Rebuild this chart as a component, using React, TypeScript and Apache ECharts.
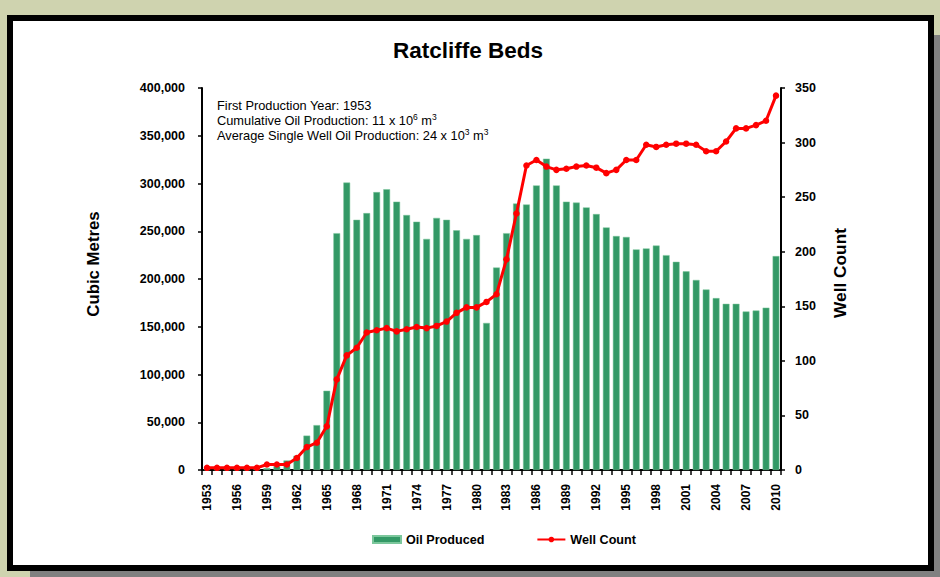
import React, { useEffect, useRef } from "react";
import * as echarts from "echarts";

const years = [
  "1953","1954","1955","1956","1957","1958","1959","1960","1961","1962",
  "1963","1964","1965","1966","1967","1968","1969","1970","1971","1972",
  "1973","1974","1975","1976","1977","1978","1979","1980","1981","1982",
  "1983","1984","1985","1986","1987","1988","1989","1990","1991","1992",
  "1993","1994","1995","1996","1997","1998","1999","2000","2001","2002",
  "2003","2004","2005","2006","2007","2008","2009","2010",
];

const oilProduced = [
  500, 500, 500, 500, 500, 1000, 2000, 4000, 10000, 15000,
  36000, 47000, 83000, 248000, 301000, 262000, 269000, 291000, 294000, 281000,
  267000, 260000, 242000, 264000, 262000, 251000, 242000, 246000, 154000, 212000,
  248000, 279000, 278000, 298000, 326000, 298000, 281000, 280000, 275000, 268000,
  254000, 245000, 244000, 231000, 232000, 235000, 225000, 218000, 208000, 199000,
  189000, 180000, 174000, 174000, 166000, 167000, 170000, 224000,
];

const wellCount = [
  2, 2, 2, 2, 2, 2, 5, 5, 5, 11,
  21, 25, 40, 83, 105, 112, 126, 128, 130, 127,
  129, 131, 130, 132, 136, 144, 149, 149, 154, 161,
  193, 235, 279, 284, 278, 275, 276, 278, 279, 277,
  272, 275, 284, 284, 298, 296, 298, 299, 299, 298,
  292, 292, 301, 313, 313, 316, 320, 343,
];

const titleText = "Ratcliffe Beds";
const leftAxisName = "Cubic Metres";
const rightAxisName = "Well Count";
const seriesNames = ["Oil Produced", "Well Count"];

const FONT = "'Liberation Sans', Arial, Helvetica, sans-serif";

export default function App() {
  const ref = useRef<HTMLDivElement>(null);

  useEffect(() => {
    if (!ref.current) return;
    const chart = echarts.init(ref.current, null, { renderer: "svg" });

    const noteRich = {
      n: { fontSize: 12.8, fontFamily: FONT, color: "#000", lineHeight: 15 },
      sup: { fontSize: 8.5, fontFamily: FONT, color: "#000", lineHeight: 15, verticalAlign: "top" as const },
    };

    chart.setOption({
      animation: false,
      backgroundColor: "#cfd3af",
      textStyle: { fontFamily: FONT },
      graphic: [
        {
          type: "rect",
          z: 0,
          shape: { x: 30, y: 35, width: 910, height: 542 },
          style: { fill: "#808080" },
          silent: true,
        },
        {
          type: "rect",
          z: 0,
          shape: { x: 10, y: 18, width: 921, height: 550 },
          style: { fill: "#ffffff", stroke: "#000000", lineWidth: 6 },
          silent: true,
        },
        {
          type: "text",
          z: 10,
          x: 468,
          y: 50,
          style: {
            text: titleText,
            fontSize: 22.5,
            fontWeight: "bold",
            fontFamily: FONT,
            fill: "#000",
            align: "center",
            verticalAlign: "middle",
          },
        },
        {
          type: "text",
          z: 10,
          x: 93,
          y: 264,
          rotation: Math.PI / 2,
          style: {
            text: leftAxisName,
            fontSize: 16.8,
            fontWeight: "bold",
            fontFamily: FONT,
            fill: "#000",
            align: "center",
            verticalAlign: "middle",
          },
        },
        {
          type: "text",
          z: 10,
          x: 840,
          y: 273,
          rotation: Math.PI / 2,
          style: {
            text: rightAxisName,
            fontSize: 17.3,
            fontWeight: "bold",
            fontFamily: FONT,
            fill: "#000",
            align: "center",
            verticalAlign: "middle",
          },
        },
        {
          type: "text",
          z: 10,
          x: 217,
          y: 105,
          style: {
            text: "{n|First Production Year: 1953}",
            rich: noteRich,
            align: "left",
            verticalAlign: "middle",
          },
        },
        {
          type: "text",
          z: 10,
          x: 217,
          y: 120,
          style: {
            text: "{n|Cumulative Oil Production: 11 x 10}{sup|6}{n| m}{sup|3}",
            rich: noteRich,
            align: "left",
            verticalAlign: "middle",
          },
        },
        {
          type: "text",
          z: 10,
          x: 217,
          y: 135,
          style: {
            text: "{n|Average Single Well Oil Production: 24 x 10}{sup|3}{n| m}{sup|3}",
            rich: noteRich,
            align: "left",
            verticalAlign: "middle",
          },
        },
      ],
      legend: {
        left: 367,
        top: 528,
        itemGap: 52,
        itemWidth: 28,
        itemHeight: 7,
        textStyle: { fontSize: 12.6, fontWeight: "bold", color: "#000", fontFamily: FONT },
        data: [
          { name: seriesNames[0], icon: "rect" },
          { name: seriesNames[1] },
        ],
      },
      grid: { left: 202, right: 159, top: 88, bottom: 107, containLabel: false },
      xAxis: {
        type: "category",
        data: years,
        boundaryGap: true,
        axisLine: { lineStyle: { color: "#000", width: 2 } },
        axisTick: { show: true, interval: 0, length: 5, lineStyle: { color: "#000", width: 1.5 } },
        axisLabel: {
          interval: 2,
          rotate: 90,
          margin: 14,
          fontSize: 12,
          fontWeight: "bold",
          color: "#000",
          fontFamily: FONT,
        },
        splitLine: { show: false },
      },
      yAxis: [
        {
          type: "value",
          min: 0,
          max: 400000,
          interval: 50000,
          position: "left",
          axisLine: { show: true, lineStyle: { color: "#000", width: 2 } },
          axisTick: { show: true, length: 4, lineStyle: { color: "#000", width: 1.5 } },
          axisLabel: {
            margin: 17,
            fontSize: 12.5,
            fontWeight: "bold",
            color: "#000",
            fontFamily: FONT,
            formatter: (v: number) => v.toLocaleString("en-US"),
          },
          splitLine: { show: false },
        },
        {
          type: "value",
          min: 0,
          max: 350,
          interval: 50,
          position: "right",
          axisLine: { show: true, lineStyle: { color: "#000", width: 2 } },
          axisTick: { show: true, length: 4, lineStyle: { color: "#000", width: 1.5 } },
          axisLabel: {
            margin: 14,
            fontSize: 12.5,
            fontWeight: "bold",
            color: "#000",
            fontFamily: FONT,
          },
          splitLine: { show: false },
        },
      ],
      series: [
        {
          name: seriesNames[0],
          type: "bar",
          yAxisIndex: 0,
          data: oilProduced,
          barCategoryGap: "32%",
          itemStyle: { color: "#339966", borderColor: "#7cc79c", borderWidth: 0.5 },
        },
        {
          name: seriesNames[1],
          type: "line",
          yAxisIndex: 1,
          data: wellCount,
          symbol: "circle",
          symbolSize: 6.5,
          lineStyle: { color: "#ff0000", width: 3 },
          itemStyle: { color: "#ff0000" },
          z: 5,
        },
      ],
    });

    return () => chart.dispose();
  }, []);

  return (
    <div
      ref={ref}
      style={{ position: "fixed", left: 0, top: 0, width: 940, height: 577 }}
    />
  );
}
